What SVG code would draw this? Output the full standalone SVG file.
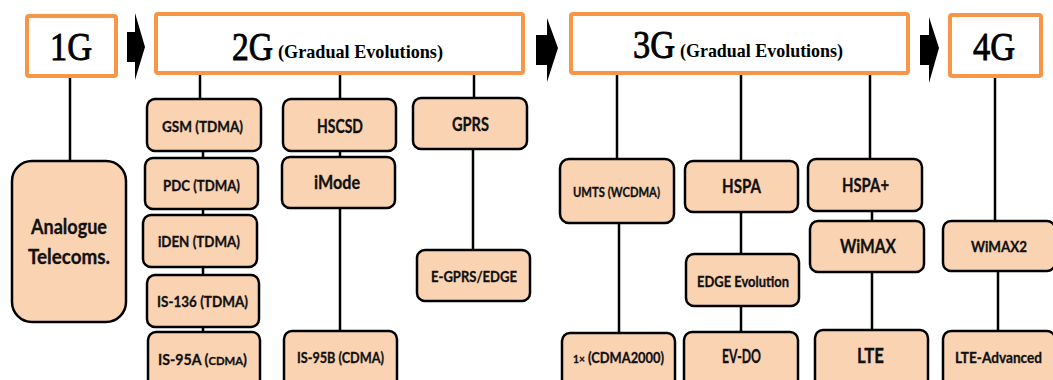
<svg xmlns="http://www.w3.org/2000/svg" width="1053" height="380" viewBox="0 0 1053 380">
  <style>
    .gen { fill: #ffffff; stroke: #F79646; stroke-width: 4; }
    .gen-big { font-family: "Liberation Serif", "DejaVu Serif", serif; font-size: 40px; fill: #000; stroke: #000; stroke-width: 0.9; }
    .gen-sub { font-family: "Liberation Serif", "DejaVu Serif", serif; font-size: 19px; font-weight: bold; fill: #000; }
    .tech { fill: #FAD3B3; stroke: #000; stroke-width: 2.5; }
    .lbl { font-family: "Lato", "Liberation Sans", sans-serif; font-weight: bold; font-size: 15px; fill: #111; stroke: #111; stroke-width: 0.3; text-anchor: middle; }
    .lbl-l { font-size: 18px; }
    .lbl-s { font-size: 13px; }
    .link { stroke: #000; stroke-width: 2.5; fill: none; }
    .step { fill: #000; }
  </style>

  <!-- connectors -->
  <g id="connectors">
    <line class="link" x1="70" y1="78" x2="70" y2="161"/>
    <line class="link" x1="200" y1="75" x2="200" y2="99"/>
    <line class="link" x1="203" y1="151" x2="203" y2="332"/>
    <line class="link" x1="340" y1="75" x2="340" y2="99"/>
    <line class="link" x1="340" y1="151" x2="340" y2="331"/>
    <line class="link" x1="474" y1="75" x2="474" y2="98"/>
    <line class="link" x1="473" y1="149" x2="473" y2="250"/>
    <line class="link" x1="617" y1="75" x2="617" y2="159"/>
    <line class="link" x1="619" y1="223" x2="619" y2="333"/>
    <line class="link" x1="741" y1="75" x2="741" y2="161"/>
    <line class="link" x1="741" y1="212" x2="741" y2="332"/>
    <line class="link" x1="870" y1="75" x2="870" y2="159"/>
    <line class="link" x1="872" y1="211" x2="872" y2="330"/>
    <line class="link" x1="995" y1="78" x2="995" y2="221"/>
    <line class="link" x1="998" y1="271" x2="998" y2="331"/>
  </g>

  <!-- progression arrows between generations -->
  <g id="steps">
    <polygon class="step" points="127,32 135,32 135,13 145,47 135,80 135,62 127,62"/>
    <polygon class="step" points="536,35 547,35 547,18 558,48 547,82 547,65 536,65"/>
    <polygon class="step" points="920,35 929,35 929,17 939,48 929,83 929,65 920,65"/>
  </g>

  <!-- generation headers -->
  <g id="gen-1G">
    <rect class="gen" x="27" y="16" width="89" height="60" rx="2"/>
    <text class="gen-big" x="50" y="60" textLength="42" lengthAdjust="spacingAndGlyphs">1G</text>
  </g>
  <g id="gen-2G">
    <rect class="gen" x="156" y="14" width="367" height="59" rx="2"/>
    <text class="gen-big" x="232" y="60" textLength="41" lengthAdjust="spacingAndGlyphs">2G</text>
    <text class="gen-sub" x="278" y="58" textLength="165" lengthAdjust="spacingAndGlyphs">(Gradual Evolutions)</text>
  </g>
  <g id="gen-3G">
    <rect class="gen" x="571" y="14" width="337" height="59" rx="2"/>
    <text class="gen-big" x="633" y="58" textLength="42" lengthAdjust="spacingAndGlyphs">3G</text>
    <text class="gen-sub" x="680" y="57" textLength="163" lengthAdjust="spacingAndGlyphs">(Gradual Evolutions)</text>
  </g>
  <g id="gen-4G">
    <rect class="gen" x="950" y="15" width="91" height="61" rx="2"/>
    <text class="gen-big" x="973" y="60" textLength="42" lengthAdjust="spacingAndGlyphs">4G</text>
  </g>

  <!-- 1G -->
  <g id="analogue">
    <rect class="tech" x="12" y="161" width="114" height="161" rx="20"/>
    <text class="lbl" x="69" y="234" style="font-size:20px" textLength="76" lengthAdjust="spacingAndGlyphs">Analogue</text>
    <text class="lbl" x="69" y="264" style="font-size:20px" textLength="82" lengthAdjust="spacingAndGlyphs">Telecoms.</text>
  </g>

  <!-- 2G, first branch -->
  <g id="gsm">
    <rect class="tech" x="147" y="99" width="114" height="52" rx="8"/>
    <text class="lbl" x="202.5" y="132" textLength="81" lengthAdjust="spacingAndGlyphs">GSM (TDMA)</text>
  </g>
  <g id="pdc">
    <rect class="tech" x="145" y="158" width="113" height="51" rx="8"/>
    <text class="lbl" x="201.5" y="191" textLength="77" lengthAdjust="spacingAndGlyphs">PDC (TDMA)</text>
  </g>
  <g id="iden">
    <rect class="tech" x="143" y="215" width="114" height="52" rx="8"/>
    <text class="lbl" x="199" y="247" textLength="82" lengthAdjust="spacingAndGlyphs">iDEN (TDMA)</text>
  </g>
  <g id="is136">
    <rect class="tech" x="147" y="275" width="112" height="52" rx="8"/>
    <text class="lbl" x="202.5" y="307" textLength="91" lengthAdjust="spacingAndGlyphs">IS-136 (TDMA)</text>
  </g>
  <g id="is95a">
    <rect class="tech" x="148" y="332" width="112" height="60" rx="8"/>
    <text class="lbl" x="202.5" y="365" textLength="89" lengthAdjust="spacingAndGlyphs">IS-95A (<tspan style="font-size:12px">CDMA</tspan>)</text>
  </g>

  <!-- 2G, second branch -->
  <g id="hscsd">
    <rect class="tech" x="283" y="99" width="113" height="52" rx="8"/>
    <text class="lbl lbl-l" x="340" y="133" textLength="46" lengthAdjust="spacingAndGlyphs">HSCSD</text>
  </g>
  <g id="imode">
    <rect class="tech" x="282" y="157" width="113" height="51" rx="8"/>
    <text class="lbl lbl-l" x="337" y="189" textLength="46" lengthAdjust="spacingAndGlyphs">iMode</text>
  </g>
  <g id="is95b">
    <rect class="tech" x="284" y="331" width="113" height="60" rx="8"/>
    <text class="lbl" x="340.5" y="363" textLength="87" lengthAdjust="spacingAndGlyphs">IS-95B (CDMA)</text>
  </g>

  <!-- 2G, third branch -->
  <g id="gprs">
    <rect class="tech" x="413" y="98" width="114" height="51" rx="8"/>
    <text class="lbl lbl-l" x="470.5" y="131" textLength="37" lengthAdjust="spacingAndGlyphs">GPRS</text>
  </g>
  <g id="egprs">
    <rect class="tech" x="417" y="250" width="113" height="51" rx="8"/>
    <text class="lbl" x="474" y="282" textLength="86" lengthAdjust="spacingAndGlyphs">E-GPRS/EDGE</text>
  </g>

  <!-- 3G, first branch -->
  <g id="umts">
    <rect class="tech" x="560" y="159" width="114" height="64" rx="9"/>
    <text class="lbl lbl-s" x="616.5" y="197" textLength="87" lengthAdjust="spacingAndGlyphs">UMTS (WCDMA)</text>
  </g>
  <g id="cdma2000">
    <rect class="tech" x="562" y="333" width="113" height="60" rx="8"/>
    <text class="lbl" x="618.5" y="363" textLength="91" lengthAdjust="spacingAndGlyphs"><tspan style="font-size:12px">1×</tspan> (CDMA2000)</text>
  </g>

  <!-- 3G, second branch -->
  <g id="hspa">
    <rect class="tech" x="685" y="161" width="113" height="51" rx="8"/>
    <text class="lbl lbl-l" x="741.5" y="193" textLength="39" lengthAdjust="spacingAndGlyphs">HSPA</text>
  </g>
  <g id="edge-evo">
    <rect class="tech" x="686" y="254" width="113" height="52" rx="8"/>
    <text class="lbl" x="743" y="287" textLength="92" lengthAdjust="spacingAndGlyphs">EDGE Evolution</text>
  </g>
  <g id="evdo">
    <rect class="tech" x="684" y="332" width="114" height="60" rx="8"/>
    <text class="lbl lbl-l" x="741.5" y="363" textLength="39" lengthAdjust="spacingAndGlyphs">EV-DO</text>
  </g>

  <!-- 3G, third branch -->
  <g id="hspa-plus">
    <rect class="tech" x="808" y="159" width="114" height="52" rx="8"/>
    <text class="lbl lbl-l" x="865.5" y="192" textLength="47" lengthAdjust="spacingAndGlyphs">HSPA+</text>
  </g>
  <g id="wimax">
    <rect class="tech" x="810" y="221" width="114" height="51" rx="8"/>
    <text class="lbl lbl-l" x="868" y="253" textLength="56" lengthAdjust="spacingAndGlyphs">WiMAX</text>
  </g>
  <g id="lte">
    <rect class="tech" x="815" y="330" width="113" height="62" rx="8"/>
    <text class="lbl" x="870.5" y="363" style="font-size:21px" textLength="27" lengthAdjust="spacingAndGlyphs">LTE</text>
  </g>

  <!-- 4G -->
  <g id="wimax2">
    <rect class="tech" x="943" y="221" width="112" height="50" rx="8"/>
    <text class="lbl" x="999" y="252" textLength="56" lengthAdjust="spacingAndGlyphs">WiMAX2</text>
  </g>
  <g id="lte-adv">
    <rect class="tech" x="943" y="331" width="112" height="61" rx="8"/>
    <text class="lbl" x="998.5" y="363" textLength="87" lengthAdjust="spacingAndGlyphs">LTE-Advanced</text>
  </g>
</svg>
